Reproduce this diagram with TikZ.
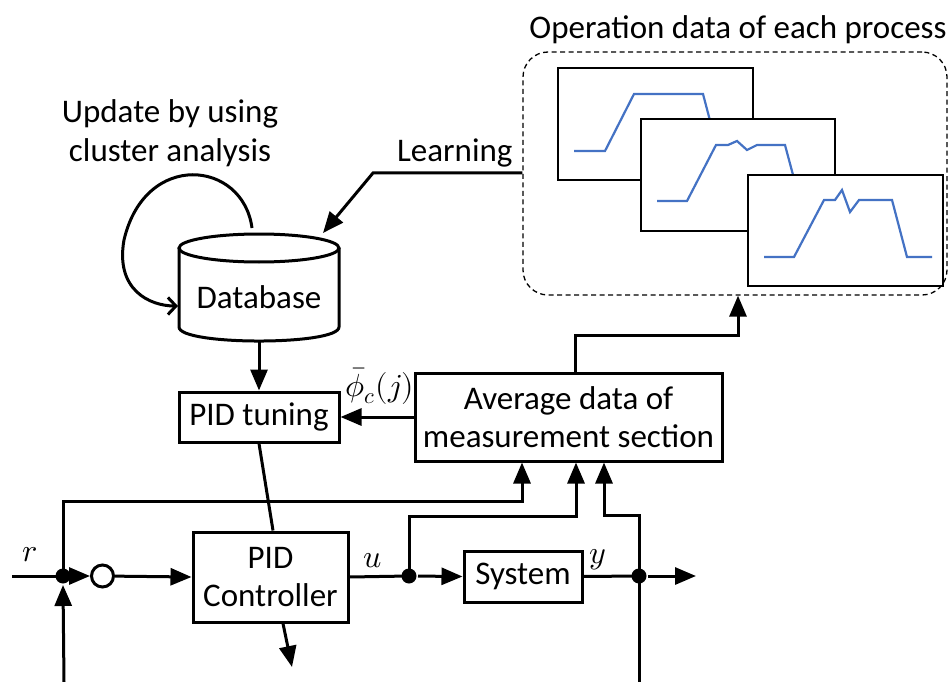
\documentclass[tikz,border=0pt]{standalone}
\usepackage{fontspec}
\usepackage{unicode-math}
\setmainfont{Carlito}
\setmathfont{Latin Modern Math}
\usetikzlibrary{arrows.meta}
\definecolor{curveblue}{HTML}{4472C4}
\begin{document}
\begin{tikzpicture}[x=1pt,y=-1pt,line width=3pt,
  box/.style={draw,line width=3pt,inner sep=0pt,align=center,font=\fontsize{33}{38}\selectfont},
  lbl/.style={inner sep=0pt,align=center,font=\fontsize{33}{39}\selectfont},
  mlbl/.style={inner sep=0pt,font=\fontsize{32}{36}\selectfont},
  arr/.style={-{Triangle[length=21pt,width=17pt]}},
  dotnode/.style={circle,fill=black,inner sep=0pt,minimum size=15pt},
  chart/.style={draw=black,fill=white,line width=1.4pt},
  curve/.style={draw=curveblue,line width=2.2pt,line join=miter}]
\useasboundingbox (0,0) rectangle (951,682);

% ---------- operation data ----------
\node[lbl] (title) at (738,30) {Operation data of each process};
\node[draw,dashed,dash pattern=on 5pt off 3.5pt,line width=1.3pt,rounded corners=25pt,
      minimum width=424pt,minimum height=243pt,inner sep=0pt] (ops) at (735,173.5) {};
\draw[chart] (558,68) rectangle (753,180);
\draw[curve] (574,151) -- (605,151) -- (634,94) -- (703,94) -- (718,151) -- (740,151);
\draw[chart] (641,119) rectangle (835,231);
\draw[curve] (657,201) -- (687,201) -- (716,145) -- (728,145) -- (737,141) -- (747,150) -- (757,145) -- (785,145) -- (800,201) -- (822,201);
\draw[chart] (748,175) rectangle (943,286);
\draw[curve] (764,257) -- (794,257) -- (824,200) -- (835,200) -- (842,190) -- (850,212) -- (859,200) -- (892,200) -- (907,257) -- (932,257);

% ---------- database ----------
\draw[fill=white] (179,248) -- (179,327) .. controls (179,345.7) and (339,345.7) .. (339,327) -- (339,248);
\draw (259,248) ellipse [x radius=80, y radius=14];
\node[lbl] (db) at (259,297) {Database};
\coordinate (dbbottom) at (259,341);
\coordinate (dbtopleft) at (252,228);
\coordinate (dbleft) at (178,306);
\coordinate (dbtopright) at (323,233);

\node[lbl] (upd) at (170,133) {Update by using\\cluster analysis};
\draw[-{Straight Barb[length=8pt,width=17pt]}] (dbtopleft) .. controls (243,160) and (145,150) .. (124,240) .. controls (115,290) and (150,306) .. (dbleft);

\node[lbl,anchor=east] (learn) at (514,153) {Learning};
\draw[arr] (ops.west |- 0,173) -- (373,173) -- (dbtopright);

% ---------- tuning / average ----------
\node[box,minimum width=160pt,minimum height=50pt] (tune) at (259,417) {PID tuning};
\node[box,minimum width=307pt,minimum height=88pt] (avg) at (568.5,417) {Average data of\\measurement section};
\draw[arr] (dbbottom) -- (tune.north);
\draw[arr] (avg.west) -- (tune.east);
\node[mlbl] (phi) at (380,386) {$\bar{\phi}_c(j)$};
\draw[arr] ([xshift=6.5pt]avg.north) -- (575,335) -- (738,335) -- ([xshift=3pt]ops.south);

% ---------- control loop ----------
\node[box,minimum width=155pt,minimum height=90pt] (pidc) at (270.5,577) {PID\\Controller};
\node[box,minimum width=118pt,minimum height=51pt] (sys) at (523,576.5) {System};
\node[dotnode] (rdot) at (63,576) {};
\node[dotnode] (udot) at (409,576) {};
\node[dotnode] (ydot) at (639,576) {};
\node[circle,draw,line width=3pt,minimum size=22pt,inner sep=0pt] (sum) at (102.5,576) {};
\coordinate (rin) at (12,576);
\coordinate (yout) at (696,576);
\coordinate (fbbottom) at (64,682);
\coordinate (ybottom) at (639,682);
\coordinate (pidout) at (292,667);

\node[mlbl] (rl) at (30,555) {$r$};
\node[mlbl] (ul) at (373,561) {$u$};
\node[mlbl] (yl) at (598,560) {$y$};

\draw (rin) -- (rdot.center);
\draw[arr] (rdot) -- (sum);
\draw[arr] (sum) -- (pidc.west);
\draw (pidc.east) -- (udot.center);
\draw[arr] (udot) -- (sys.west);
\draw (sys.east) -- (ydot.center);
\draw[arr] (ydot) -- (yout);
\draw[arr] (fbbottom) -- (rdot.south);
\draw (ydot.center) -- (ybottom);

\draw (tune.south) -- ([xshift=2.5pt]pidc.north);
\draw[arr] ([xshift=12.5pt]pidc.south) -- (pidout);

\draw[arr] (rdot.center) -- (63,501) -- (522,501) -- ([xshift=-46.5pt]avg.south);
\draw[arr] (udot.center) -- (409,516) -- (576,516) -- ([xshift=7.5pt]avg.south);
\draw[arr] (ydot.center) -- (639,515) -- (604,515) -- ([xshift=35.5pt]avg.south);
\end{tikzpicture}
\end{document}
